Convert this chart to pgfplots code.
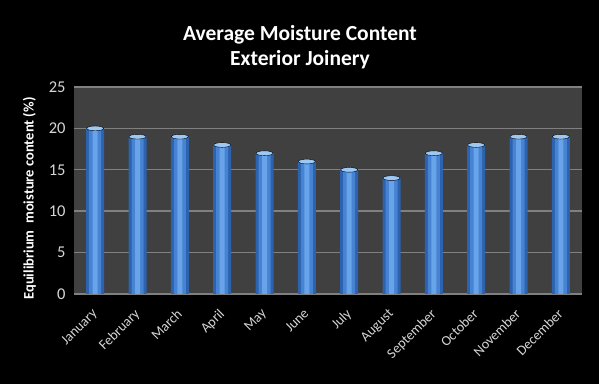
\documentclass[border=0pt]{standalone}
\usepackage{pgfplots}
\pgfplotsset{compat=1.18}
\usepackage{fontspec}
\setmainfont{Carlito}
\definecolor{plotbg}{HTML}{404040}
\definecolor{gridc}{HTML}{808080}
\definecolor{baredge}{HTML}{2C62AE}
\definecolor{barmid}{HTML}{4683D2}
\definecolor{barctr}{HTML}{69A3EA}
\definecolor{barcap}{HTML}{9CC8F4}
\definecolor{tickc}{HTML}{D6D6D6}
\pgfplotstableread{
x y
0 20
1 19
2 19
3 18
4 17
5 16
6 15
7 14
8 17
9 18
10 19
11 19
}\moist
\begin{document}
\begin{tikzpicture}
\fill[black] (0,0) rectangle (599bp,384bp);
\node[text=white,font=\fontsize{21.5bp}{25bp}\selectfont\bfseries,align=center] at (300bp,337bp) {Average Moisture Content\\Exterior Joinery};
\begin{axis}[
  at={(74bp,90bp)}, anchor=south west,
  scale only axis, width=508bp, height=207bp,
  axis background/.style={fill=plotbg},
  ymin=0, ymax=25, ytick={0,5,10,15,20,25},
  xmin=-0.5, xmax=11.5,
  xtick={0,...,11},
  xticklabels={January,February,March,April,May,June,July,August,September,October,November,December},
  x tick label style={yshift=-9bp,xshift=-4bp,rotate=45,anchor=north east,font=\fontsize{14bp}{16bp}\selectfont,text=tickc},
  y tick label style={font=\fontsize{16.5bp}{18bp}\selectfont,text=tickc,xshift=-5bp},
  /pgf/number format/assume math mode=true,
  major tick length=0pt,
  ymajorgrids, grid style={gridc,line width=1.4bp},
  axis line style={draw=none},
  every axis y label/.style={at={(ticklabel cs:0.5)},rotate=90,anchor=south,yshift=6bp,xshift=-8bp},
  ylabel={\bfseries Equilibrium\ \ moisture content (\%)},
  ylabel style={text=white,font=\fontsize{14.5bp}{16bp}\selectfont},
]
\addplot[ybar, bar shift=0pt, draw=none, fill=baredge, bar width=18bp] table[x=x,y=y] {\moist};
\addplot[ybar, bar shift=0pt, draw=none, fill=barmid, bar width=12bp] table[x=x,y=y] {\moist};
\addplot[ybar, bar shift=0pt, draw=none, fill=barctr, bar width=5bp] table[x=x,y=y] {\moist};
\addplot[only marks, mark=*, mark size=8.5bp, mark options={yscale=0.28, draw=none, fill=barcap}] table[x=x,y=y] {\moist};
\end{axis}
\end{tikzpicture}
\end{document}
